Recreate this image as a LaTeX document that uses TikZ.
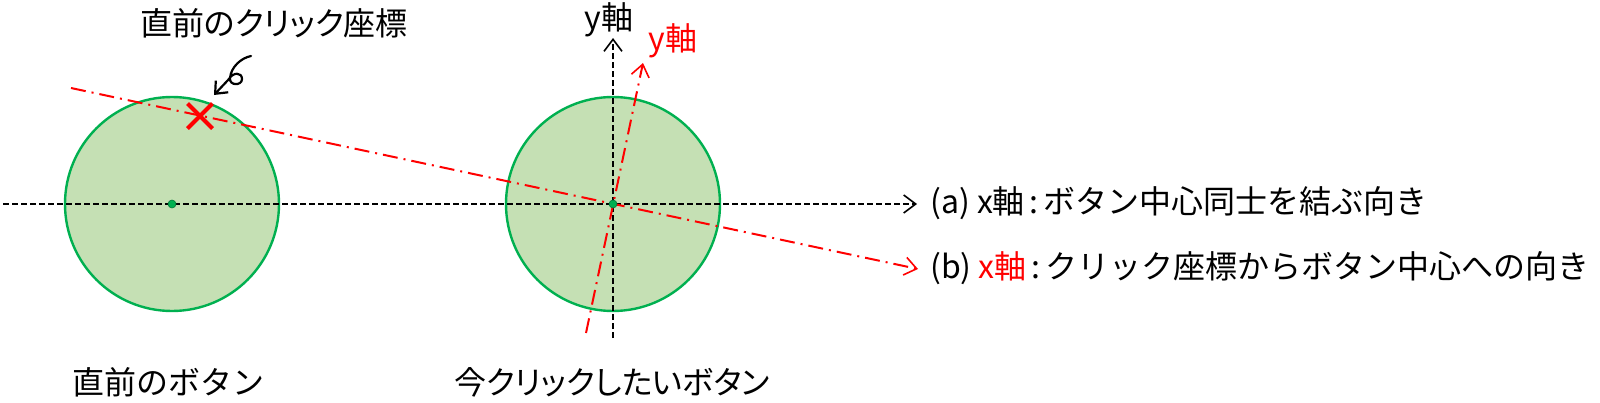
\documentclass[tikz,border=0pt]{standalone}
\usepackage{fontspec}
\setmainfont{Noto Sans CJK JP}
\newfontfamily\pfont[RawFeature=+palt]{Noto Sans CJK JP}
\usetikzlibrary{arrows.meta}
\definecolor{bgreen}{HTML}{00B050}
\definecolor{lgreen}{HTML}{C5E0B4}
\definecolor{xred}{HTML}{FF0000}
\begin{document}
\begin{tikzpicture}[x=1pt,y=-1pt,
  lbl/.style={font=\fontsize{32}{38}\selectfont, inner sep=0pt},
  button/.style={circle, draw=bgreen, line width=2.4pt, fill=lgreen, minimum size=214pt, inner sep=0pt},
  cdot/.style={circle, fill=bgreen, draw=bgreen!70!black, line width=0.6pt, minimum size=8pt, inner sep=0pt},
  baxis/.style={line width=1.8pt, dash pattern=on 6pt off 3pt, -{Straight Barb[length=12pt,width=18pt,line width=1.6pt]}},
  raxis/.style={xred, line width=2pt, dash pattern=on 15pt off 6pt on 2pt off 6pt, -{Straight Barb[length=12pt,width=18pt,line width=1.6pt]}},
  xmark/.style={xred, line width=4pt}]
\useasboundingbox (0,0) rectangle (1600,402);
% buttons
\node[button] (b1) at (172,204) {};
\node[button] (b2) at (613,204) {};
% axis end points
\coordinate (hx0) at (3,204);
\coordinate (hx1) at (917,204);
\coordinate (vy0) at (613,338);
\coordinate (vy1) at (613,38);
\coordinate (rx0) at (71,88);
\coordinate (rx1) at (918,269);
\coordinate (ry0) at (586,333);
\coordinate (ry1) at (643,63);
% black axes
\draw[baxis] (hx0) -- (hx1);
\draw[baxis] (vy0) -- (vy1);
% red axes
\draw[raxis] (rx0) -- (rx1);
\draw[raxis] (ry0) -- (ry1);
% centre dots
\node[cdot] (c1) at (b1.center) {};
\node[cdot] (c2) at (b2.center) {};
% click mark
\coordinate (xm) at (200,116);
\draw[xmark] ([shift={(-12.5,-12.5)}]xm) -- ([shift={(12.5,12.5)}]xm);
\draw[xmark] ([shift={(-12.5,12.5)}]xm) -- ([shift={(12.5,-12.5)}]xm);
% curly pointer
\coordinate (pstart) at (251,56);
\coordinate (ptip) at (214,95);
\draw[line width=2.2pt, line cap=round, -{Straight Barb[length=10pt,width=17pt,line width=2.2pt]}]
  (pstart) .. controls (241,58) and (231,67) .. (230,78)
  .. controls (229,86) and (242,86) .. (242,79)
  .. controls (242,72) and (233,72) .. (229,79) -- (ptip);
% labels
\node[lbl, font=\fontsize{32}{38}\pfont] (t1) at (274,23) {直前のクリック座標};
\node[lbl] (t2) at (168,382) {直前のボタン};
\node[lbl, font=\fontsize{32}{38}\pfont] (t3) at (612,382) {今クリックしたいボタン};
\node[lbl] (ylab) at (609,20) {y軸};
\node[lbl, text=xred] (rylab) at (673,41) {y軸};
\node[lbl, anchor=west] (la) at (930,203) {(a) x軸\kern0.15em:\kern0.15em ボタン中心同士を結ぶ向き};
\node[lbl, anchor=west] (lb) at (930,268) {(b) \textcolor{xred}{x軸}\kern0.15em:\kern0.15em クリック座標からボタン中心への向き};
\end{tikzpicture}
\end{document}
